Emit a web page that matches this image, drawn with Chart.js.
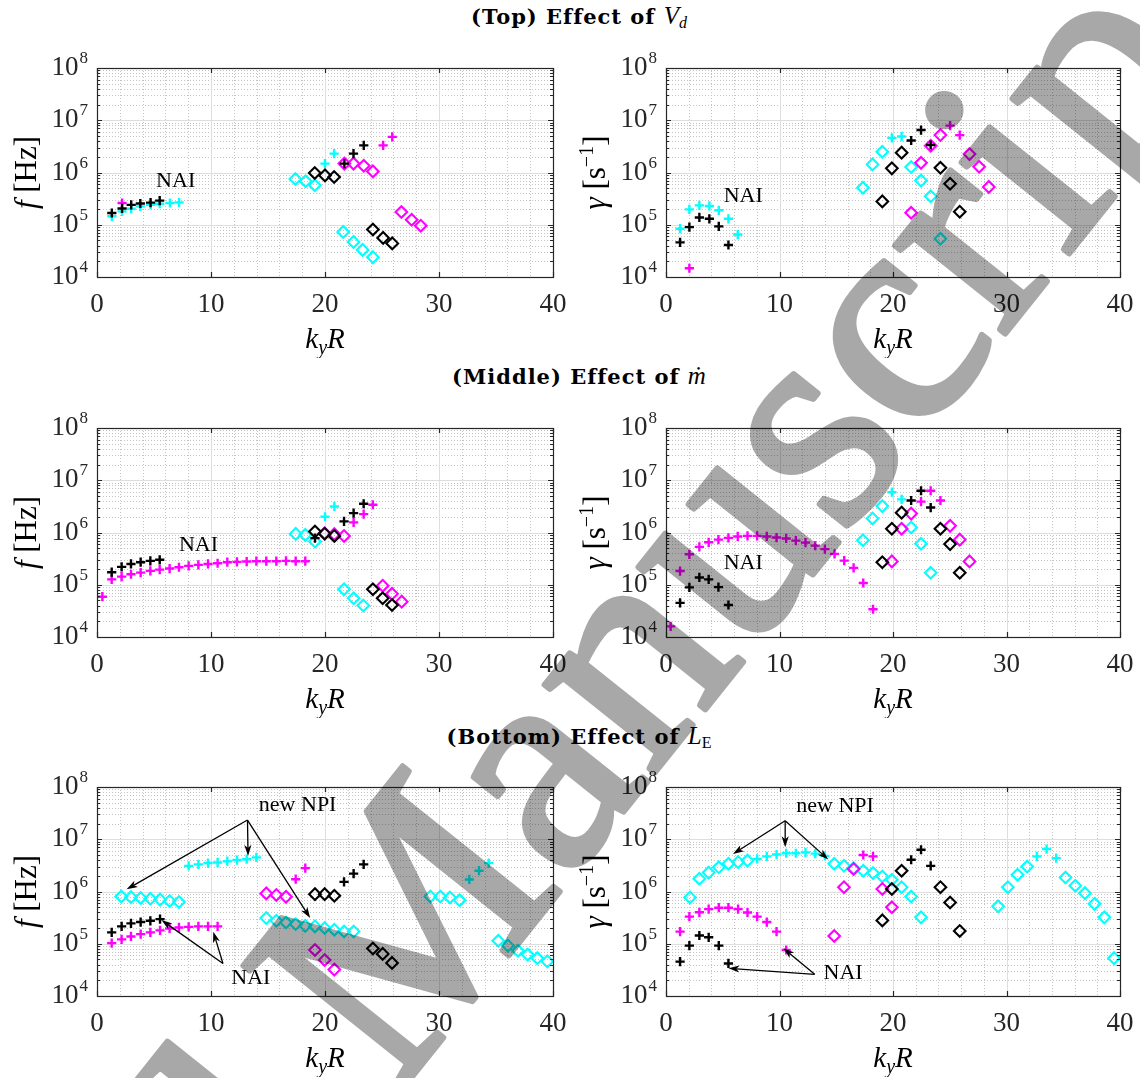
<!DOCTYPE html>
<html>
<head>
<meta charset="utf-8">
<script src="https://cdn.jsdelivr.net/npm/chart.js@4.4.1/dist/chart.umd.min.js"></script>
<style>
  html, body { margin: 0; padding: 0; background: #fff; }
  #fig { position: relative; width: 1140px; height: 1078px; overflow: hidden; background: #fff; }
  #fig canvas { position: absolute; }
  #wm { pointer-events: none; opacity: 0.34; }
  .title { position: absolute; left: 0; width: 1158px; text-align: center; font: bold 21px "DejaVu Serif"; letter-spacing: 1px; line-height: 24px; color: #000; white-space: nowrap; }
  .title i { font-weight: normal; font-family: "Liberation Serif"; font-size: 25px; letter-spacing: 0; }
  .title sub { font-weight: normal; font-size: 16px; vertical-align: -4px; line-height: 0; font-family: "Liberation Serif"; letter-spacing: 0; }
</style>
</head>
<body>
<div id="fig">
  <div class="title" style="top:4px">(Top) Effect of <i>V</i><sub><i style="font-size:16px">d</i></sub></div>
  <div class="title" style="top:364px">(Middle) Effect of <i>ṁ</i></div>
  <div class="title" style="top:724px">(Bottom) Effect of <i>L</i><sub>E</sub></div>
  <canvas id="c1" width="570" height="330" style="left:0;top:28px"></canvas>
  <canvas id="c2" width="570" height="330" style="left:570px;top:28px"></canvas>
  <canvas id="c3" width="570" height="330" style="left:0;top:388px"></canvas>
  <canvas id="c4" width="570" height="330" style="left:570px;top:388px"></canvas>
  <canvas id="c5" width="570" height="330" style="left:0;top:747px"></canvas>
  <canvas id="c6" width="570" height="330" style="left:570px;top:747px"></canvas>
  <canvas id="wm" width="1140" height="1078" style="left:0;top:0"></canvas>
</div>
<script>
// axes
const xTicks = [0, 10, 20, 30, 40];
const yExps = [4, 5, 6, 7, 8];

// ---- (Top) effect of V_d : frequency f [Hz]
const topF_blackPlus = [[1.3,1.68e5],[2.2,2.05e5],[3.0,2.4e5],[3.8,2.55e5],[4.7,2.65e5],[5.5,2.9e5],[21.7,1.48e6],[22.5,2.3e6],[23.4,3.3e6]];
const topF_blackDiam = [[19.1,9.8e5],[20.0,8.8e5],[20.8,8.2e5],[24.2,8.1e4],[25.1,5.6e4],[25.9,4.4e4]];
const topF_magPlus = [[2.2,2.6e5],[25.1,3.3e6],[25.9,4.8e6]];
const topF_magDiam = [[21.7,1.48e6],[22.5,1.48e6],[23.4,1.35e6],[24.2,1.05e6],[26.7,1.75e5],[27.6,1.25e5],[28.4,9.6e4]];
const topF_cyanPlus = [[1.3,1.45e5],[2.2,1.8e5],[3.0,2.03e5],[3.8,2.25e5],[4.7,2.42e5],[5.5,2.53e5],[6.4,2.61e5],[7.2,2.68e5],[20.0,1.48e6],[20.8,2.3e6]];
const topF_cyanDiam = [[17.4,7.5e5],[18.3,6.8e5],[19.1,5.7e5],[21.6,7.3e4],[22.5,4.7e4],[23.3,3.3e4],[24.2,2.4e4]];

// ---- (Top) growth rate gamma [1/s]
const topG_blackPlus = [[1.24,4.6e4],[2.06,9.0e4],[2.94,1.38e5],[3.82,1.3e5],[4.65,9.3e4],[5.5,4.1e4],[21.6,4.1e6],[22.47,6.5e6],[23.32,3.36e6]];
const topG_blackDiam = [[19.06,2.8e5],[19.9,1.2e6],[20.76,2.4e6],[24.18,1.23e6],[25.03,6.1e5],[25.88,1.78e5]];
const topG_magPlus = [[2.06,1.47e4],[25.03,7.9e6],[25.88,5.2e6]];
const topG_magDiam = [[21.6,1.7e5],[22.47,1.53e6],[23.32,3.26e6],[24.18,5.2e6],[26.74,2.25e6],[27.59,1.29e6],[28.44,5.3e5]];
const topG_cyanPlus = [[1.24,8.4e4],[2.06,1.97e5],[2.94,2.35e5],[3.82,2.29e5],[4.65,1.89e5],[5.5,1.3e5],[6.32,6.5e4],[19.9,4.6e6],[20.76,4.9e6]];
const topG_cyanDiam = [[17.35,5.1e5],[18.2,1.43e6],[19.06,2.5e6],[21.6,1.27e6],[22.47,7.0e5],[23.32,3.5e5],[24.18,5.4e4]];

// ---- (Middle) effect of mdot : f [Hz]
const midF_blackPlus = [[1.29,1.74e5],[2.16,2.2e5],[2.98,2.5e5],[3.83,2.7e5],[4.68,2.86e5],[5.5,3.0e5],[19.12,7.8e5],[21.67,1.63e6],[22.51,2.35e6],[23.39,3.55e6]];
const midF_blackDiam = [[19.12,1.04e6],[19.97,9.5e5],[20.82,8.6e5],[24.2,8.2e4],[25.06,5.5e4],[25.88,4.1e4]];
const midF_magPlus = [[0.47,5.9e4],[1.29,1.27e5],[2.16,1.43e5],[2.98,1.59e5],[3.83,1.71e5],[4.68,1.84e5],[5.5,1.95e5],[6.37,2.04e5],[7.19,2.16e5],[8.04,2.3e5],[8.89,2.4e5],[9.74,2.5e5],[10.58,2.58e5],[11.43,2.7e5],[12.28,2.74e5],[13.13,2.78e5],[13.98,2.82e5],[14.85,2.82e5],[15.73,2.82e5],[16.58,2.86e5],[17.43,2.82e5],[18.27,2.82e5],[22.51,1.56e6],[23.39,2.25e6],[24.2,3.4e6]];
const midF_magDiam = [[19.97,9.7e5],[20.82,9.3e5],[21.67,8.6e5],[25.06,9.6e4],[25.88,6.7e4],[26.73,4.75e4]];
const midF_cyanPlus = [[20.0,2.0e6],[20.82,3.15e6]];
const midF_cyanDiam = [[17.43,9.4e5],[18.27,9.0e5],[19.12,6.7e5],[21.67,8.2e4],[22.51,5.5e4],[23.36,4.0e4]];

// ---- (Middle) gamma
const midG_blackPlus = [[1.24,4.5e4],[2.06,8.9e4],[2.94,1.38e5],[3.76,1.27e5],[4.62,9.0e4],[5.5,4.1e4],[21.6,4.1e6],[22.47,6.3e6],[23.32,3.0e6]];
const midG_blackDiam = [[19.06,2.7e5],[19.9,1.18e6],[20.76,2.4e6],[24.18,1.18e6],[25.03,6.0e5],[25.88,1.7e5]];
const midG_magPlus = [[0.41,1.6e4],[1.24,1.83e5],[2.06,3.83e5],[2.94,5.3e5],[3.76,6.5e5],[4.62,7.3e5],[5.5,7.9e5],[6.32,8.4e5],[7.18,8.6e5],[8.03,8.6e5],[8.88,8.4e5],[9.74,8.0e5],[10.59,7.7e5],[11.44,7.0e5],[12.29,6.4e5],[13.15,5.6e5],[14.0,4.8e5],[14.85,3.9e5],[15.7,2.9e5],[16.53,2.1e5],[17.38,1.08e5],[18.24,3.4e4],[22.47,3.9e6],[23.32,6.3e6],[24.18,4.1e6]];
const midG_magDiam = [[19.9,2.8e5],[20.76,1.18e6],[21.6,2.3e6],[25.03,1.34e6],[25.88,7.3e5],[26.74,2.8e5]];
const midG_cyanPlus = [[19.9,5.9e6],[20.76,4.3e6]];
const midG_cyanDiam = [[17.35,7.1e5],[18.2,1.86e6],[19.06,3.2e6],[21.6,1.25e6],[22.47,6.1e5],[23.32,1.7e5]];

// ---- (Bottom) effect of L_E : f [Hz]
const botF_blackPlus = [[1.29,1.65e5],[2.16,2.15e5],[2.98,2.45e5],[3.83,2.6e5],[4.68,2.75e5],[5.53,2.96e5],[21.67,1.53e6],[22.51,2.2e6],[23.39,3.3e6]];
const botF_blackDiam = [[19.12,8.9e5],[19.97,8.9e5],[20.82,8.3e5],[24.2,8.1e4],[25.06,6.4e4],[25.88,4.3e4]];
const botF_magPlus = [[1.29,1.03e5],[2.16,1.21e5],[2.98,1.38e5],[3.83,1.53e5],[4.68,1.65e5],[5.53,1.8e5],[6.37,1.96e5],[7.19,2.05e5],[8.04,2.1e5],[8.89,2.15e5],[9.74,2.15e5],[10.58,2.15e5],[17.43,1.72e6],[18.27,2.8e6]];
const botF_magDiam = [[14.85,9.2e5],[15.73,8.6e5],[16.58,7.9e5],[19.12,7.6e4],[19.97,4.9e4],[20.82,3.2e4]];
const botF_cyanPlus = [[8.04,3.1e6],[8.89,3.3e6],[9.74,3.5e6],[10.58,3.6e6],[11.43,3.8e6],[12.28,4.0e6],[13.13,4.15e6],[13.98,4.5e6],[32.66,1.7e6],[33.51,2.5e6],[34.36,3.5e6]];
const botF_cyanDiam = [[2.13,8.0e5],[2.98,7.8e5],[3.83,7.5e5],[4.68,7.25e5],[5.53,7.0e5],[6.37,6.6e5],[7.19,6.3e5],
  [14.85,3.1e5],[15.73,2.75e5],[16.58,2.55e5],[17.43,2.38e5],[18.27,2.2e5],[19.12,2.15e5],[19.97,2.0e5],[20.82,1.85e5],[21.67,1.72e5],[22.51,1.72e5],
  [29.24,8.0e5],[30.12,8.0e5],[30.96,7.7e5],[31.81,6.8e5],[35.2,1.14e5],[36.05,9.2e4],[36.93,7.35e4],[37.78,6.2e4],[38.63,5.3e4],[39.5,4.6e4]];

// ---- (Bottom) gamma
const botG_blackPlus = [[1.24,4.55e4],[2.06,9.2e4],[2.94,1.44e5],[3.76,1.33e5],[4.65,9.2e4],[5.5,4.2e4],[21.6,4.05e6],[22.47,6.3e6],[23.32,3.1e6]];
const botG_blackDiam = [[19.06,2.8e5],[19.9,1.12e6],[20.76,2.5e6],[24.18,1.21e6],[25.03,6.15e5],[25.88,1.76e5]];
const botG_magPlus = [[1.24,1.71e5],[2.06,3.3e5],[2.94,4.0e5],[3.76,4.6e5],[4.65,4.9e5],[5.5,4.9e5],[6.35,4.6e5],[7.18,3.96e5],[8.03,3.3e5],[8.88,2.6e5],[9.74,1.71e5],[10.59,7.6e4],[17.38,5.0e6],[18.24,4.7e6]];
const botG_magDiam = [[14.82,1.41e5],[15.68,1.21e6],[16.53,2.7e6],[19.06,1.12e6],[19.9,5.0e5]];
const botG_cyanPlus = [[8.03,4.2e6],[8.88,4.7e6],[9.74,5.1e6],[10.59,5.4e6],[11.44,5.4e6],[12.29,5.6e6],[13.15,5.3e6],[14.0,4.8e6],[32.68,4.7e6],[33.53,6.5e6],[34.38,4.35e6]];
const botG_cyanDiam = [[2.12,7.7e5],[2.94,1.75e6],[3.76,2.3e6],[4.65,2.9e6],[5.5,3.4e6],[6.35,3.65e6],[7.18,3.9e6],
  [14.82,3.4e6],[15.68,3.1e6],[16.53,2.8e6],[17.38,2.5e6],[18.24,2.25e6],[19.06,1.94e6],[19.9,1.68e6],[20.76,1.21e6],[21.6,8.0e5],[22.47,3.2e5],
  [29.26,5.2e5],[30.12,1.21e6],[30.97,2.1e6],[31.82,3.0e6],[35.2,1.85e6],[36.06,1.29e6],[36.91,9.3e5],[37.76,5.8e5],[38.62,3.2e5],[39.47,5.3e4]];

const BLACK = '#000000', MAG = '#ff00ff', CYAN = '#00ffff';
const SERIF = '"Liberation Serif"';

function series(bp, bd, mp, md, cp, cd) {
  const mk = (pts, color, diam) => ({
    data: pts.map(([x, y]) => ({ x, y })),
    borderColor: color,
    backgroundColor: 'transparent',
    pointStyle: diam ? 'rectRot' : 'cross',
    pointRadius: diam ? 5.8 : 4.6,
    pointBorderWidth: diam ? 2.1 : 2.4,
    clip: false
  });
  return [mk(bp, BLACK, false), mk(bd, BLACK, true), mk(mp, MAG, false), mk(md, MAG, true), mk(cp, CYAN, false), mk(cd, CYAN, true)];
}

const panels = [
  { id: 'c1', right: false, ylab: 'f', sets: series(topF_blackPlus, topF_blackDiam, topF_magPlus, topF_magDiam, topF_cyanPlus, topF_cyanDiam),
    notes: [{ t: 'NAI', at: [6.9, 6.8e5] }], arrows: [] },
  { id: 'c2', right: true, ylab: 'g', sets: series(topG_blackPlus, topG_blackDiam, topG_magPlus, topG_magDiam, topG_cyanPlus, topG_cyanDiam),
    notes: [{ t: 'NAI', at: [6.8, 3.5e5] }], arrows: [] },
  { id: 'c3', right: false, ylab: 'f', sets: series(midF_blackPlus, midF_blackDiam, midF_magPlus, midF_magDiam, midF_cyanPlus, midF_cyanDiam),
    notes: [{ t: 'NAI', at: [8.9, 5.8e5] }], arrows: [] },
  { id: 'c4', right: true, ylab: 'g', sets: series(midG_blackPlus, midG_blackDiam, midG_magPlus, midG_magDiam, midG_cyanPlus, midG_cyanDiam),
    notes: [{ t: 'NAI', at: [6.8, 2.6e5] }], arrows: [] },
  { id: 'c5', right: false, ylab: 'f', sets: series(botF_blackPlus, botF_blackDiam, botF_magPlus, botF_magDiam, botF_cyanPlus, botF_cyanDiam),
    notes: [{ t: 'new NPI', at: [17.6, 4.5e7] }, { t: 'NAI', at: [13.5, 2.2e4] }],
    arrows: [[[13.2, 2.33e7], [2.6, 1.1e6]], [[13.2, 2.33e7], [13.25, 4.8e6]], [[13.2, 2.33e7], [18.7, 3.1e5]],
             [[11.05, 4.2e4], [5.65, 2.85e5]], [[11.05, 4.2e4], [10.2, 1.7e5]]] },
  { id: 'c6', right: true, ylab: 'g', sets: series(botG_blackPlus, botG_blackDiam, botG_magPlus, botG_magDiam, botG_cyanPlus, botG_cyanDiam),
    notes: [{ t: 'new NPI', at: [14.9, 4.3e7] }, { t: 'NAI', at: [15.6, 2.75e4] }],
    arrows: [[[10.5, 2.26e7], [5.9, 5.2e6]], [[10.5, 2.26e7], [10.5, 7.0e6]], [[10.5, 2.26e7], [14.3, 4.1e6]],
             [[13.1, 2.6e4], [10.35, 8.2e4]], [[13.1, 2.6e4], [5.5, 3.4e4]]] }
];

function drawRich(ctx, parts, cx, base) {
  let w = 0;
  parts.forEach(p => { ctx.font = p.font; p.w = ctx.measureText(p.t).width; w += p.w; });
  let x0 = cx - w / 2;
  parts.forEach(p => { ctx.font = p.font; ctx.fillText(p.t, x0, base + (p.dy || 0)); x0 += p.w; });
}

function arrow(ctx, x1, y1, x2, y2) {
  const ang = Math.atan2(y2 - y1, x2 - x1), L = 11, W = 3.6;
  const bx = x2 - L * Math.cos(ang), by = y2 - L * Math.sin(ang);
  ctx.beginPath(); ctx.moveTo(x1, y1); ctx.lineTo(bx + 3 * Math.cos(ang), by + 3 * Math.sin(ang)); ctx.stroke();
  const nx = -Math.sin(ang), ny = Math.cos(ang);
  ctx.beginPath();
  ctx.moveTo(x2, y2);
  ctx.lineTo(bx + nx * W, by + ny * W);
  ctx.lineTo(bx + 3 * Math.cos(ang), by + 3 * Math.sin(ang));
  ctx.lineTo(bx - nx * W, by - ny * W);
  ctx.closePath(); ctx.fill();
}

const decor = {
  id: 'decor',
  beforeDatasetsDraw(chart) {
    const { ctx, chartArea: a, scales: { x, y } } = chart;
    ctx.save();
    ctx.lineWidth = 1;
    // minor grid (dotted)
    ctx.strokeStyle = '#c4c4c4';
    ctx.setLineDash([1, 2]);
    ctx.beginPath();
    for (let k = 2; k < 40; k += 2) {
      if (k % 10 === 0) continue;
      const px = Math.round(x.getPixelForValue(k)) + 0.5;
      ctx.moveTo(px, a.top); ctx.lineTo(px, a.bottom);
    }
    for (let e = yExps[0]; e < yExps[yExps.length - 1]; e++) {
      for (let m = 2; m <= 9; m++) {
        const py = Math.round(y.getPixelForValue(m * Math.pow(10, e))) + 0.5;
        ctx.moveTo(a.left, py); ctx.lineTo(a.right, py);
      }
    }
    ctx.stroke();
    // major grid
    ctx.setLineDash([]);
    ctx.strokeStyle = '#dedede';
    ctx.beginPath();
    xTicks.forEach(k => { const px = Math.round(x.getPixelForValue(k)) + 0.5; ctx.moveTo(px, a.top); ctx.lineTo(px, a.bottom); });
    yExps.forEach(e => { const py = Math.round(y.getPixelForValue(Math.pow(10, e))) + 0.5; ctx.moveTo(a.left, py); ctx.lineTo(a.right, py); });
    ctx.stroke();
    ctx.restore();
  },
  afterDatasetsDraw(chart, args, opts) {
    const { ctx, chartArea: a, scales: { x, y } } = chart;
    const p = opts.panel;
    ctx.save();
    // box and ticks
    ctx.strokeStyle = '#262626';
    ctx.lineWidth = 1.2;
    ctx.strokeRect(Math.round(a.left) + 0.5, Math.round(a.top) + 0.5, Math.round(a.right - a.left), Math.round(a.bottom - a.top));
    ctx.beginPath();
    xTicks.forEach(k => {
      const px = Math.round(x.getPixelForValue(k)) + 0.5;
      ctx.moveTo(px, a.bottom); ctx.lineTo(px, a.bottom - 5);
      ctx.moveTo(px, a.top); ctx.lineTo(px, a.top + 5);
    });
    for (let e = yExps[0]; e <= yExps[yExps.length - 1]; e++) {
      for (let m = 1; m <= 9; m++) {
        if (e === yExps[yExps.length - 1] && m > 1) break;
        const py = Math.round(y.getPixelForValue(m * Math.pow(10, e))) + 0.5;
        const len = m === 1 ? 5 : 3;
        ctx.moveTo(a.left, py); ctx.lineTo(a.left + len, py);
        ctx.moveTo(a.right, py); ctx.lineTo(a.right - len, py);
      }
    }
    ctx.stroke();

    // tick labels
    ctx.fillStyle = '#262626';
    ctx.textBaseline = 'alphabetic';
    ctx.textAlign = 'center';
    ctx.font = '27px ' + SERIF;
    xTicks.forEach(k => ctx.fillText(String(k), x.getPixelForValue(k), a.bottom + 35));
    yExps.forEach(e => {
      const py = y.getPixelForValue(Math.pow(10, e));
      ctx.font = '17px ' + SERIF;
      const ew = ctx.measureText(String(e)).width;
      ctx.textAlign = 'left';
      ctx.fillText(String(e), a.left - 9 - ew, py - 5);
      ctx.font = '27px ' + SERIF;
      ctx.textAlign = 'right';
      ctx.fillText('10', a.left - 10 - ew, py + 7);
    });

    // axis labels
    ctx.textAlign = 'left';
    ctx.fillStyle = '#000';
    drawRich(ctx, [
      { t: 'k', font: 'italic 29px ' + SERIF },
      { t: 'y', font: 'italic 20px ' + SERIF, dy: 6 },
      { t: 'R', font: 'italic 29px ' + SERIF }
    ], (a.left + a.right) / 2, a.bottom + 71);

    ctx.save();
    ctx.translate(a.left - 61, (a.top + a.bottom) / 2);
    ctx.rotate(-Math.PI / 2);
    if (p.ylab === 'f') {
      drawRich(ctx, [
        { t: 'f', font: 'italic 31px ' + SERIF },
        { t: ' [Hz]', font: '31px ' + SERIF }
      ], 0, 0);
    } else {
      drawRich(ctx, [
        { t: 'γ', font: 'italic 31px ' + SERIF },
        { t: ' [s', font: '31px ' + SERIF },
        { t: '−1', font: '20px ' + SERIF, dy: -12 },
        { t: ']', font: '31px ' + SERIF }
      ], 0, 0);
    }
    ctx.restore();

    // annotations
    ctx.fillStyle = '#000';
    ctx.strokeStyle = '#000';
    ctx.lineWidth = 1.3;
    ctx.font = '22px ' + SERIF;
    ctx.textAlign = 'center';
    ctx.textBaseline = 'middle';
    p.notes.forEach(n => ctx.fillText(n.t, x.getPixelForValue(n.at[0]), y.getPixelForValue(n.at[1])));
    p.arrows.forEach(([from, to]) => arrow(ctx,
      x.getPixelForValue(from[0]), y.getPixelForValue(from[1]),
      x.getPixelForValue(to[0]), y.getPixelForValue(to[1])));
    ctx.restore();
  }
};

panels.forEach(p => {
  new Chart(document.getElementById(p.id), {
    type: 'scatter',
    data: { datasets: p.sets },
    plugins: [decor],
    options: {
      responsive: false,
      animation: false,
      events: [],
      layout: { padding: p.right ? { left: 96, right: 20, top: 40, bottom: 81 } : { left: 97, right: 17, top: 40, bottom: 81 } },
      plugins: { legend: { display: false }, tooltip: { enabled: false }, decor: { panel: p } },
      scales: {
        x: { type: 'linear', min: 0, max: 40, display: false },
        y: { type: 'logarithmic', min: 1e4, max: 1e8, display: false }
      }
    }
  });
});

// "Accepted Manuscript" watermark across the page (canvas opacity set in CSS)
(function () {
  const ctx = document.getElementById('wm').getContext('2d');
  ctx.save();
  ctx.translate(395, 1098);
  ctx.rotate(-51.4 * Math.PI / 180);
  ctx.font = '307px ' + SERIF;
  ctx.fillStyle = '#000';
  ctx.strokeStyle = '#000';
  ctx.lineWidth = 6;
  ctx.lineJoin = 'round';
  ctx.textBaseline = 'alphabetic';
  ctx.textAlign = 'left';
  const pre = 'Accepted ';
  const pw = ctx.measureText(pre).width;
  ctx.fillText(pre, -pw, 0);
  ctx.strokeText(pre, -pw, 0);
  ctx.fillText('Manuscript', 0, 0);
  ctx.strokeText('Manuscript', 0, 0);
  ctx.restore();
})();
</script>
</body>
</html>
